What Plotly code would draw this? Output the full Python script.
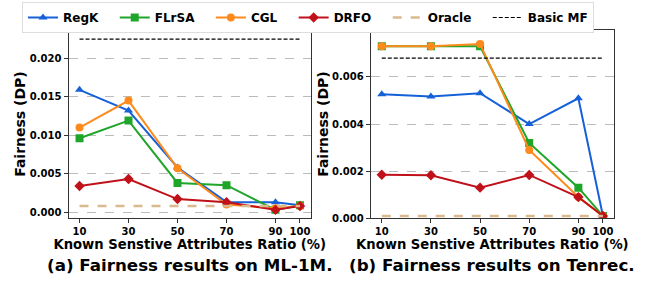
import plotly.graph_objects as go

ratios = [10, 30, 50, 70, 90, 100]
tick_labels = ["10", "30", "50", "70", "90", "100"]

# ML-1M
ml_regk = [0.0159, 0.0132, 0.0058, 0.0013, 0.0013, 0.0009]
ml_flrsa = [0.0096, 0.0119, 0.0038, 0.0035, 0.0003, 0.0009]
ml_cgl = [0.0110, 0.0145, 0.0057, 0.0010, 0.0005, 0.0008]
ml_drfo = [0.0034, 0.0043, 0.0017, 0.0013, 0.0003, 0.0008]
ml_oracle = [0.0008, 0.0008]
ml_basic = [0.0225, 0.0225]
ml_yticks = [0, 0.005, 0.01, 0.015, 0.02]

# Tenrec
tr_regk = [0.00526, 0.00517, 0.00531, 0.00400, 0.00509, 0.0001]
tr_flrsa = [0.0073, 0.0073, 0.0073, 0.0032, 0.0013, 0.0001]
tr_cgl = [0.0073, 0.0073, 0.0074, 0.0029, 0.0009, 0.0001]
tr_drfo = [0.00185, 0.00183, 0.0013, 0.00184, 0.0009, 0.0001]
tr_oracle = [0.0001, 0.0001]
tr_basic = [0.0068, 0.0068]
tr_yticks = [0, 0.002, 0.004, 0.006, 0.008]

ends = [10, 100]

colors = {"RegK": "#1660d8", "FLrSA": "#1fa52a", "CGL": "#ff8a1c", "DRFO": "#c0111a",
          "Oracle": "#d9b98e", "Basic MF": "#000000"}
symbols = {"RegK": "triangle-up", "FLrSA": "square", "CGL": "circle", "DRFO": "diamond"}
PAD = "\u00a0\u00a0\u00a0"

fig = go.Figure()

def add_panel(xa, ya, regk, flrsa, cgl, drfo, oracle, basic, show):
    for name, vals in [("RegK", regk), ("FLrSA", flrsa), ("CGL", cgl), ("DRFO", drfo)]:
        fig.add_trace(go.Scatter(x=ratios, y=vals, name="<b>%s</b>%s" % (name, PAD), mode="lines+markers",
                                 line=dict(color=colors[name], width=2),
                                 marker=dict(symbol=symbols[name], size=8, color=colors[name]),
                                 xaxis=xa, yaxis=ya, showlegend=show))
    fig.add_trace(go.Scatter(x=ends, y=oracle, name="<b>Oracle</b>" + PAD, mode="lines",
                             line=dict(color=colors["Oracle"], width=2.5, dash="dash"),
                             xaxis=xa, yaxis=ya, showlegend=show))
    fig.add_trace(go.Scatter(x=ends, y=basic, name="<b>Basic MF</b>", mode="lines",
                             line=dict(color=colors["Basic MF"], width=1.2, dash="4px,2px"),
                             xaxis=xa, yaxis=ya, showlegend=show))

add_panel("x", "y", ml_regk, ml_flrsa, ml_cgl, ml_drfo, ml_oracle, ml_basic, True)
add_panel("x2", "y2", tr_regk, tr_flrsa, tr_cgl, tr_drfo, tr_oracle, tr_basic, False)

W, H = 655, 282
ytop = 1 - 29.8 / H
ybot = 1 - 218.3 / H

tickfont = dict(family="DejaVu Sans", size=10, color="black")
common_x = dict(tickvals=ratios, ticktext=["<b>%s</b>" % t for t in tick_labels], range=[5.5, 104.5],
                showgrid=False, automargin=False,
                zeroline=False, showline=True, linecolor="#333", linewidth=1, mirror=True,
                ticks="outside", ticklen=4, tickcolor="#333", tickfont=tickfont,
                title=dict(text="<b>Known Senstive Attributes Ratio (%)</b>",
                           font=dict(family="DejaVu Sans", size=13.2, color="black"), standoff=3))
common_y = dict(showgrid=True, gridcolor="#bbbbbb", griddash="dash", gridwidth=1, zeroline=False,
                automargin=False,
                showline=True, linecolor="#333", linewidth=1, mirror=True, ticks="outside",
                ticklen=4, tickcolor="#333", tickfont=tickfont,
                title=dict(text="<b>Fairness (DP)</b>", font=dict(family="DejaVu Sans", size=14, color="black"),
                           standoff=0))

fig.update_layout(
    width=W, height=H, margin=dict(l=0, r=0, t=0, b=0, autoexpand=False),
    plot_bgcolor="white", paper_bgcolor="white",
    font=dict(family="DejaVu Sans", color="black"),
    xaxis=dict(domain=[68.5 / W, 311 / W], anchor="y", **common_x),
    yaxis=dict(domain=[ybot, ytop], anchor="x", range=[-0.0008, 0.0237],
               tickvals=ml_yticks, ticktext=["<b>%.3f</b>" % v for v in ml_yticks], **common_y),
    xaxis2=dict(domain=[370.7 / W, 614 / W], anchor="y2", **common_x),
    yaxis2=dict(domain=[ybot, ytop], anchor="x2", range=[0, 0.008],
                tickvals=tr_yticks, ticktext=["<b>%.3f</b>" % v for v in tr_yticks], **common_y),
    legend=dict(orientation="h", x=22 / W, y=1 - 2 / H, xanchor="left", yanchor="top",
                bgcolor="white", bordercolor="#dddddd", borderwidth=1,
                font=dict(family="DejaVu Sans", size=12, color="black"),
                itemwidth=30, tracegroupgap=0),
    annotations=[
        dict(text="<b>(a) Fairness results on ML-1M.</b>", x=190 / W, y=1 - 265 / H, xref="paper", yref="paper",
             showarrow=False, font=dict(family="DejaVu Sans", size=16.7, color="black"), xanchor="center", yanchor="middle"),
        dict(text="<b>(b) Fairness results on Tenrec.</b>", x=492 / W, y=1 - 265 / H, xref="paper", yref="paper",
             showarrow=False, font=dict(family="DejaVu Sans", size=16.7, color="black"), xanchor="center", yanchor="middle"),
    ],
)

fig.write_html("out.html", config={"displayModeBar": False},
               post_script="document.body.style.margin='0';")
